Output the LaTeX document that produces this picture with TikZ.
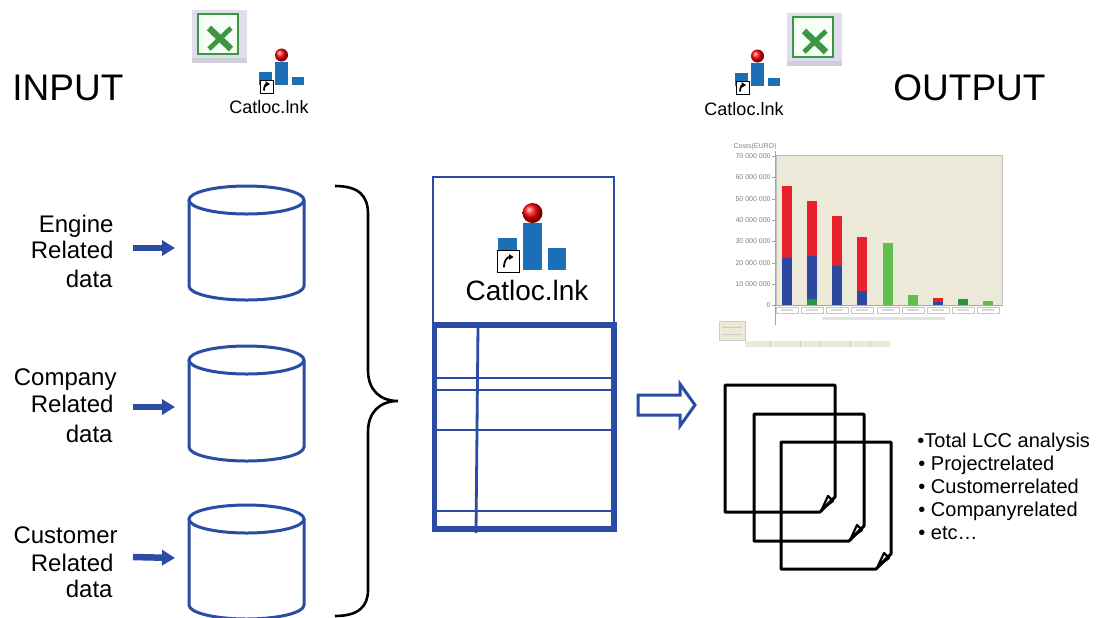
\documentclass[tikz,border=0pt]{standalone}
\usepackage{fontspec}
\setmainfont{Liberation Sans}
\usetikzlibrary{arrows.meta}

\definecolor{dblue}{RGB}{42,76,164}
\definecolor{iconblue}{RGB}{28,110,182}
\definecolor{barred}{RGB}{232,32,40}
\definecolor{barblue}{RGB}{44,72,160}
\definecolor{bargreen}{RGB}{96,190,76}
\definecolor{bardkgreen}{RGB}{40,150,60}
\definecolor{plotbg}{RGB}{236,233,216}
\definecolor{xlgreen}{RGB}{60,150,66}
\definecolor{xlbg}{RGB}{222,222,236}

% Excel file icon, origin at the top-left corner of its grey tile
\newcommand\xlicon[2]{%
  \begin{scope}[shift={(#1,#2)}]
    \fill[xlbg] (0,0) rectangle (55,53);
    \fill[xlbg!85!gray] (0,48) rectangle (55,53);
    \draw[xlgreen, line width=1.3pt, fill=green!4] (6,4) rectangle (46,44);
    \draw[xlgreen, line width=3.2pt] (17,18) -- (39,39);
    \draw[xlgreen, line width=2.4pt] (39,18) -- (17,39);
  \end{scope}}

% shortcut badge: white square with a curled arrow
\newcommand\badge[5]{% x1, y1, x2, y2, arrow scale
  \draw[fill=white, line width=0.5pt] (#1,#2) rectangle (#3,#4);
  \begin{scope}[shift={($(#1,#4)!0.5!(#3,#2)$)}, scale=#5]
    \draw[line width=0.9pt, -{Triangle[length=2.2pt,width=2.6pt]}] (-2.5,4) .. controls (-2.5,-1) and (0,-2.5) .. (3.5,-2.5);
  \end{scope}}

% small Catloc shortcut icon, origin at the bottom-left of the first bar
\newcommand\catlocsmall[2]{%
  \begin{scope}[shift={(#1,#2)}]
    \fill[iconblue] (0,0) rectangle (13,-13);
    \fill[iconblue] (16,0) rectangle (29,-23);
    \fill[iconblue] (33,0) rectangle (45,-8);
    \shade[ball color=red] (22.5,-30) circle (6.5);
    \badge{1}{-5}{14}{8}{1}
  \end{scope}}

% one sheet of paper with a folded corner
\newcommand\sheet[2]{%
  \begin{scope}[shift={(#1,#2)}]
    \draw[line width=1.5pt, line join=round] (0,0) -- (110,0) -- (110,112) -- (95,127) -- (0,127) -- cycle;
    \draw[line width=1.1pt, line join=round] (103,111) -- (97,124) -- (108,116) -- cycle;
  \end{scope}}

% database drum: centre x, top centre y, bottom centre y, name
\newcommand\drum[4]{%
  \coordinate (#4) at (#1-57.5,#2);
  \draw[cyl] (#1-57.5,#2) -- (#1-57.5,#3)
     arc[start angle=180, end angle=0, x radius=57.5, y radius=14] -- (#1+57.5,#2);
  \draw[cyl] (#1,#2) ellipse [x radius=57.5, y radius=14];}

\usetikzlibrary{calc}

\begin{document}
\begin{tikzpicture}[x=0.5pt, y=-0.5pt,
  heading/.style={font=\fontsize{18.5}{22}\selectfont, inner sep=0, anchor=base west},
  lbl/.style={font=\fontsize{12}{14}\selectfont, inner sep=0, anchor=base east},
  bullet/.style={font=\fontsize{10}{12}\selectfont, inner sep=0, anchor=base west},
  iconlbl/.style={font=\fontsize{9}{10}\selectfont, inner sep=0, anchor=base},
  cyl/.style={draw=dblue, line width=1.5pt, fill=white},
  feed/.style={draw=dblue, line width=3.25pt, -{Triangle[length=6.5pt,width=7.5pt]}},
  ticklbl/.style={font=\fontsize{3.5}{4}\selectfont, text=gray, inner sep=0, anchor=east}]

\useasboundingbox (0,0) rectangle (1099,617);

% ---------- headings and file icons ----------
\node[heading] (input) at (12,100) {INPUT};
\node[heading] (output) at (893,100) {OUTPUT};

\xlicon{192}{10}
\catlocsmall{259}{85}
\node[iconlbl] (lnkin) at (269,113) {Catloc.lnk};

\catlocsmall{735}{86}
\node[iconlbl] (lnkout) at (744,115) {Catloc.lnk};
\xlicon{787}{13}

% ---------- input data stores ----------
\drum{246.5}{200}{286}{db1}
\drum{246.5}{360}{447}{db2}
\drum{246.5}{519}{605}{db3}

\node[lbl] (e1) at (114,232) {Engine};
\node[lbl] (e2) at (114,258) {Related};
\node[lbl] (e3) at (113,287) {data};
\node[lbl] (c1) at (117,385) {Company};
\node[lbl] (c2) at (114,412) {Related};
\node[lbl] (c3) at (113,442) {data};
\node[lbl] (u1) at (118,543) {Customer};
\node[lbl] (u2) at (114,571) {Related};
\node[lbl] (u3) at (113,597) {data};

\coordinate (f1s) at (133,248); \coordinate (f1e) at (175,248);
\coordinate (f2s) at (133,407); \coordinate (f2e) at (175,407);
\coordinate (f3s) at (133,557); \coordinate (f3e) at (175,558);
\draw[feed] (f1s) -- (f1e);
\draw[feed] (f2s) -- (f2e);
\draw[feed] (f3s) -- (f3e);

% ---------- brace ----------
\draw[line width=1.3pt] (335,186) .. controls (359,186) and (368,196) .. (368,214)
  -- (368,370) .. controls (368,390) and (380,401) .. (398,401)
  .. controls (380,401) and (368,412) .. (368,432)
  -- (368,590) .. controls (368,606) and (359,616) .. (335,616);

% ---------- Catloc tool ----------
\draw[dblue, line width=1pt] (433,177) rectangle (614,324);
\begin{scope}[shift={(498,270)}]
  \fill[iconblue] (0,0) rectangle (19,-32);
  \fill[iconblue] (25,0) rectangle (44,-47);
  \fill[iconblue] (50,0) rectangle (68,-22);
  \shade[ball color=red] (34.5,-57) circle (10);
  \badge{-1}{-20}{21}{2}{1.6}
\end{scope}
\node[font=\fontsize{14}{16}\selectfont, inner sep=0, anchor=base] (tool) at (527,300) {Catloc.lnk};

\draw[dblue, line width=2.75pt] (434.5,325) rectangle (614,529);
\begin{scope}[dblue, line width=1.4pt]
  \draw (435,378) -- (613,378);
  \draw (435,390) -- (613,390);
  \draw (435,430) -- (613,430);
  \draw (435,511) -- (613,511);
  \draw (478,326) -- (476,533);
\end{scope}

% ---------- hollow arrow ----------
\draw[dblue, line width=1.5pt, fill=white, line join=miter]
  (638,395) -- (680,395) -- (680,384) -- (695,405) -- (680,426) -- (680,415) -- (638,415) -- cycle;

% ---------- cost chart ----------
\fill[plotbg] (776,155) rectangle (1002,305);
\draw[gray!50, line width=0.3pt] (776,155) rectangle (1002,305);
\draw[gray!70, line width=0.5pt] (775,151) -- (775,325);
\draw[gray!70, line width=0.5pt] (772,305) -- (1002,305);
\node[font=\fontsize{3.5}{4}\selectfont, text=gray, inner sep=0] (ctitle) at (755,147) {Costs(EURO)};
\foreach \yy/\t in {156/70 000 000, 177/60 000 000, 199/50 000 000, 220/40 000 000,
                    241/30 000 000, 263/20 000 000, 284/10 000 000, 305/0}{
  \node[ticklbl] at (771,\yy) {\t};
  \draw[gray!70, line width=0.3pt] (772,\yy) -- (775,\yy);
}
% stacked bars
\fill[barblue] (782,305) rectangle (792,258);
\fill[barred]  (782,258) rectangle (792,186);
\fill[bardkgreen] (807,305) rectangle (817,299);
\fill[barblue] (807,299) rectangle (817,256);
\fill[barred]  (807,256) rectangle (817,201);
\fill[barblue] (832,305) rectangle (842,266);
\fill[barred]  (832,266) rectangle (842,216);
\fill[barblue] (857,305) rectangle (867,291);
\fill[barred]  (857,291) rectangle (867,237);
\fill[bargreen] (883,305) rectangle (893,243);
\fill[bargreen] (908,305) rectangle (918,295);
\fill[barblue] (933,305) rectangle (943,302);
\fill[barred]  (933,302) rectangle (943,298);
\fill[bardkgreen] (958,305) rectangle (968,299);
\fill[bargreen] (983,305) rectangle (993,301);
% category labels, axis caption, legend and sheet tabs
\foreach \c in {787,812,837,862,888,913,938,963,988}{
  \draw[gray!45, line width=0.3pt, fill=white] (\c-11,307) rectangle (\c+11,313);
  \fill[gray!30] (\c-6,309.3) rectangle (\c+6,311);
}
\fill[gray!22] (822,316.5) rectangle (945,319.5);
\draw[gray!40, line width=0.3pt, fill=plotbg] (719,321) rectangle (745,340);
\draw[gray!40, line width=0.3pt] (722,327) -- (742,327);
\draw[gray!40, line width=0.3pt] (722,334) -- (742,334);
\fill[plotbg] (745,341) rectangle (890,347);
\foreach \s in {770,800,820,850,870}{
  \draw[gray!40, line width=0.3pt] (\s,341) -- (\s,347);
}

% ---------- report sheets ----------
\sheet{725}{385}
\sheet{754}{414}
\sheet{781}{442}

\node[bullet] (b1) at (917,447) {•Total LCC analysis};
\node[bullet] (b2) at (918,470) {• Projectrelated};
\node[bullet] (b3) at (918,493) {• Customerrelated};
\node[bullet] (b4) at (918,516.5) {• Companyrelated};
\node[bullet] (b5) at (918,539) {• etc…};

\end{tikzpicture}
\end{document}
